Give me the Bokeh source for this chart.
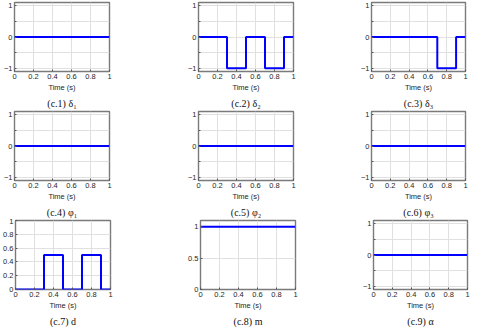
from bokeh.plotting import figure
from bokeh.layouts import column, row
from bokeh.models import FixedTicker, Title, Range1d
from bokeh.embed import file_html
from bokeh.resources import INLINE

# Time breakpoints (s) for step signals
t = [0.0, 0.3, 0.5, 0.7, 0.9, 1.0]
delta1 = [0, 0, 0, 0, 0, 0]
delta2 = [0, -1, 0, -1, 0, 0]
delta3 = [0, 0, 0, -1, 0, 0]
phi1 = [0, 0, 0, 0, 0, 0]
phi2 = [0, 0, 0, 0, 0, 0]
phi3 = [0, 0, 0, 0, 0, 0]
d_vals = [0, 0.5, 0, 0.5, 0, 0]
m_vals = [1, 1, 1, 1, 1, 1]
alpha = [0, 0, 0, 0, 0, 0]

captions = ["(c.1) δ₁", "(c.2) δ₂", "(c.3) δ₃",
            "(c.4) φ₁", "(c.5) φ₂", "(c.6) φ₃",
            "(c.7) d", "(c.8) m", "(c.9) α"]
series = [delta1, delta2, delta3, phi1, phi2, phi3, d_vals, m_vals, alpha]
x_ticks = [0, 0.2, 0.4, 0.6, 0.8, 1]
pm_ticks = [-1, -0.5, 0, 0.5, 1]
d_ticks = [0, 0.2, 0.4, 0.6, 0.8, 1]
m_ticks = [0, 0.5, 1]

# column geometry: (min_border_left, frame_width, min_border_right)
col_geom = [(10, 95, 75), (14, 95, 63), (15, 94, 3)]
FH = 69
TEXT = "#262626"

def make(i):
    c = i % 3
    bl, fw, br = col_geom[c]
    if i == 6:
        yr = Range1d(0, 1); yt = d_ticks; overrides = {}
    elif i == 7:
        yr = Range1d(0, 1.1); yt = m_ticks; overrides = {}
    else:
        yr = Range1d(-1.1, 1.1); yt = pm_ticks; overrides = {-0.5: "", 0.5: ""}
    p = figure(frame_width=fw, frame_height=FH, x_range=Range1d(0, 1), y_range=yr,
               output_backend="svg", toolbar_location=None,
               min_border_left=bl, min_border_right=br, min_border_top=2,
               min_border_bottom=0, background_fill_color="white",
               border_fill_color="white")
    p.step(t, series[i], mode="after", line_color="#0000ff", line_width=2)
    p.xaxis.ticker = FixedTicker(ticks=x_ticks)
    p.yaxis.ticker = FixedTicker(ticks=yt)
    p.yaxis.major_label_overrides = overrides
    for ax in (p.xaxis[0], p.yaxis[0]):
        ax.major_label_text_font = "Liberation Sans"
        ax.major_label_text_font_size = "7.5px"
        ax.major_label_text_color = TEXT
        ax.major_tick_in = 2
        ax.major_tick_out = 0
        ax.minor_tick_line_color = None
        ax.axis_line_color = None
        ax.major_tick_line_color = "#555555"
        ax.major_label_standoff = 2
    p.xaxis.axis_label = "Time (s)"
    p.xaxis.axis_label_text_font = "Liberation Sans"
    p.xaxis.axis_label_text_font_size = "7.5px"
    p.xaxis.axis_label_text_font_style = "normal"
    p.xaxis.axis_label_text_color = TEXT
    p.xaxis.axis_label_standoff = 1
    p.grid.grid_line_color = "#e0e0e0"
    p.outline_line_color = "#7a7a7a"
    p.outline_line_width = 1.4
    p.add_layout(Title(text=captions[i], align="center", text_font="Liberation Serif",
                       text_font_size="10px", text_font_style="normal",
                       text_color="#111111", standoff=2, offset=0), "below")
    return p

figs = [make(i) for i in range(9)]
layout = column(row(*figs[0:3]), row(*figs[3:6]), row(*figs[6:9]))
open("out.html", "w").write(file_html(layout, INLINE))
